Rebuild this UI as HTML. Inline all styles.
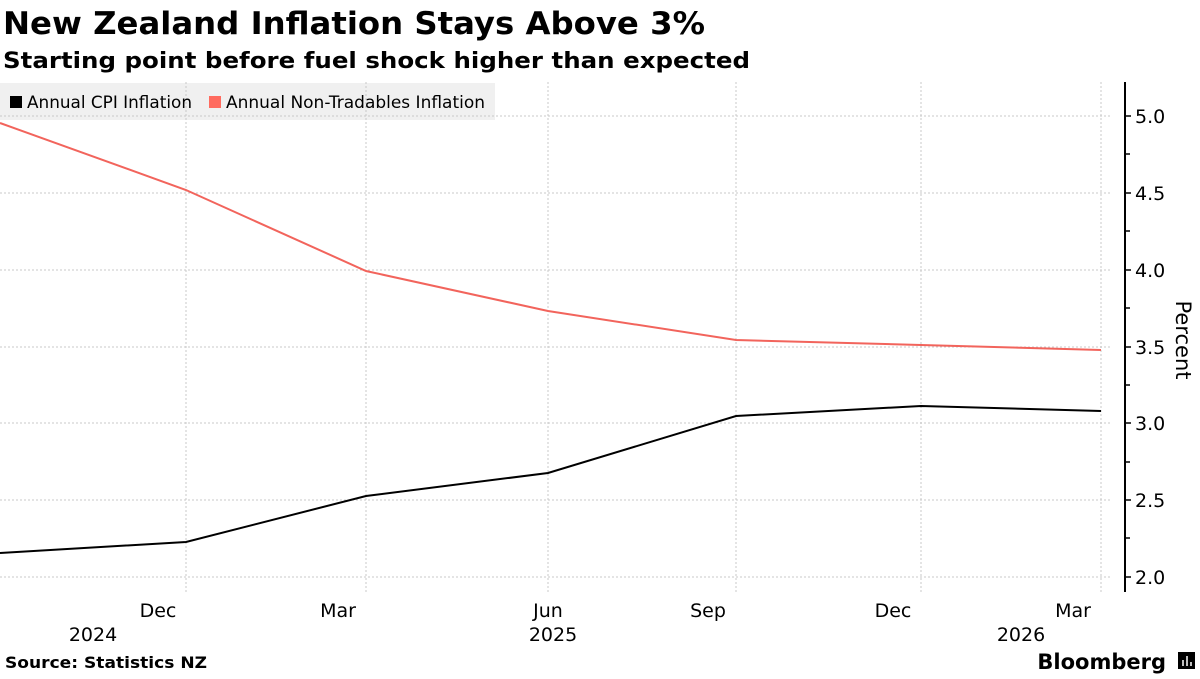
<!DOCTYPE html>
<html><head><meta charset="utf-8"><style>
body{margin:0;background:#fff;width:1200px;height:675px;overflow:hidden;font-family:"DejaVu Sans","Liberation Sans",sans-serif}
</style></head><body>
<svg width="1200" height="675" xmlns="http://www.w3.org/2000/svg" font-family="DejaVu Sans, Liberation Sans, sans-serif">
<text x="3" y="34" font-size="31" font-weight="bold" fill="#000" textLength="702" lengthAdjust="spacingAndGlyphs">New Zealand Inflation Stays Above 3%</text>
<text x="3" y="68" font-size="22" font-weight="bold" fill="#000" textLength="747" lengthAdjust="spacingAndGlyphs">Starting point before fuel shock higher than expected</text>
<rect x="0" y="83" width="495" height="37" fill="#f0f0f0"/>
<g stroke="#c8c8c8" stroke-dasharray="2,2" stroke-width="1">
<line x1="0" x2="1110" y1="116" y2="116"/><line x1="0" x2="1110" y1="193" y2="193"/>
<line x1="0" x2="1110" y1="270" y2="270"/><line x1="0" x2="1110" y1="347" y2="347"/>
<line x1="0" x2="1110" y1="423" y2="423"/><line x1="0" x2="1110" y1="500" y2="500"/>
<line x1="0" x2="1110" y1="577" y2="577"/>
<line x1="186" x2="186" y1="82" y2="592"/><line x1="366" x2="366" y1="82" y2="592"/>
<line x1="548" x2="548" y1="82" y2="592"/><line x1="736" x2="736" y1="82" y2="592"/>
<line x1="921" x2="921" y1="82" y2="592"/><line x1="1101" x2="1101" y1="82" y2="592"/>
</g>
<rect x="10" y="96" width="12" height="12" fill="#000"/>
<text x="27" y="108" font-size="16.5" fill="#000" textLength="165" lengthAdjust="spacingAndGlyphs">Annual CPI Inflation</text>
<rect x="209" y="96" width="12" height="12" fill="#ff6b5f"/>
<text x="226" y="108" font-size="16.5" fill="#000" textLength="259" lengthAdjust="spacingAndGlyphs">Annual Non-Tradables Inflation</text>
<polyline fill="none" stroke="#f2645c" stroke-width="2" points="0,123 186,190 366,271 548,311 736,340 921,345 1101,350"/>
<polyline fill="none" stroke="#000" stroke-width="2" points="0,553 186,542 366,496 548,473 736,416 921,406 1101,411"/>
<line x1="1125" x2="1125" y1="82" y2="592" stroke="#000" stroke-width="2"/>
<g stroke="#000" stroke-width="1.5">
<line x1="1125" x2="1131" y1="116" y2="116"/><line x1="1125" x2="1131" y1="193" y2="193"/>
<line x1="1125" x2="1131" y1="270" y2="270"/><line x1="1125" x2="1131" y1="347" y2="347"/>
<line x1="1125" x2="1131" y1="423" y2="423"/><line x1="1125" x2="1131" y1="500" y2="500"/>
<line x1="1125" x2="1131" y1="577" y2="577"/>
<line x1="1125" x2="1130" y1="154" y2="154"/><line x1="1125" x2="1130" y1="231" y2="231"/>
<line x1="1125" x2="1130" y1="308" y2="308"/><line x1="1125" x2="1130" y1="385" y2="385"/>
<line x1="1125" x2="1130" y1="462" y2="462"/><line x1="1125" x2="1130" y1="538" y2="538"/>
</g>
<g font-size="19" fill="#000">
<text x="1135" y="123">5.0</text><text x="1135" y="200">4.5</text><text x="1135" y="277">4.0</text>
<text x="1135" y="354">3.5</text><text x="1135" y="430">3.0</text><text x="1135" y="507">2.5</text>
<text x="1135" y="584">2.0</text>
</g>
<text transform="translate(1176,340) rotate(90)" font-size="21" text-anchor="middle" fill="#000">Percent</text>
<g font-size="19" fill="#000" text-anchor="middle">
<text x="158" y="617">Dec</text><text x="338" y="617">Mar</text><text x="548" y="617">Jun</text>
<text x="708" y="617">Sep</text><text x="893" y="617">Dec</text><text x="1073" y="617">Mar</text>
<text x="93" y="641">2024</text><text x="553" y="641">2025</text><text x="1021" y="641">2026</text>
</g>
<text x="5" y="668" font-size="16" font-weight="bold" fill="#000" textLength="202" lengthAdjust="spacingAndGlyphs">Source: Statistics NZ</text>
<text x="1166" y="669" font-size="21" font-weight="bold" text-anchor="end" fill="#000">Bloomberg</text>
<rect x="1178" y="652" width="17" height="17" fill="#000"/>
<g stroke="#fff" stroke-width="1.5"><line x1="1183" y1="666" x2="1183" y2="660"/><line x1="1187" y1="666" x2="1187" y2="656"/><line x1="1191" y1="666" x2="1191" y2="662"/></g>
</svg>
</body></html>
